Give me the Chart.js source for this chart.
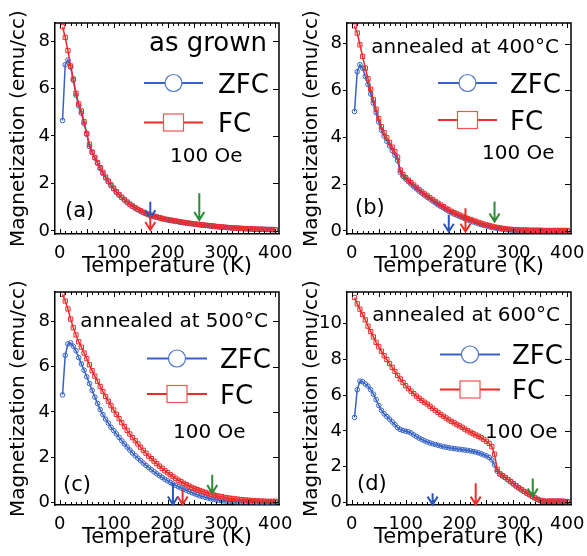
<!DOCTYPE html>
<html>
<head>
<meta charset="utf-8">
<title>ZFC / FC magnetization</title>
<script src="https://cdn.jsdelivr.net/npm/chart.js@4.4.1/dist/chart.umd.min.js"></script>
<style>
  html, body { margin: 0; padding: 0; background: #fff; }
  #page { position: relative; width: 587px; height: 556px; overflow: hidden; background: #fff; }
  #page canvas { position: absolute; }
</style>
</head>
<body>
<div id="page">
  <canvas id="chartA" width="300" height="278" style="left:0;top:0"></canvas>
  <canvas id="chartB" width="294" height="278" style="left:293px;top:0"></canvas>
  <canvas id="chartC" width="300" height="278" style="left:0;top:278px"></canvas>
  <canvas id="chartD" width="294" height="278" style="left:293px;top:278px"></canvas>
</div>
<script>
// Temperature grid (K), shared by every sweep
const temps = [
  5, 10, 15, 20, 25, 30, 35, 40, 45, 50,
  55, 60, 65, 70, 75, 80, 85, 90, 95, 100,
  105, 110, 115, 120, 125, 130, 135, 140, 145, 150,
  155, 160, 165, 170, 175, 180, 185, 190, 195, 200,
  205, 210, 215, 220, 225, 230, 235, 240, 245, 250,
  255, 260, 265, 270, 275, 280, 285, 290, 295, 300,
  305, 310, 315, 320, 325, 330, 335, 340, 345, 350,
  355, 360, 365, 370, 375, 380, 385, 390, 395, 400
];

// (a) as grown
const zfcA = [
  4.65, 7.0, 7.2, 6.9, 6.35, 5.72, 5.27, 4.96, 4.52, 4.07,
  3.55, 3.31, 3.07, 2.85, 2.63, 2.42, 2.23, 2.07, 1.91, 1.77,
  1.63, 1.51, 1.40, 1.30, 1.20, 1.11, 1.03, 0.96, 0.89, 0.83,
  0.77, 0.72, 0.68, 0.64, 0.60, 0.57, 0.54, 0.51, 0.48, 0.46,
  0.44, 0.42, 0.40, 0.38, 0.36, 0.34, 0.33, 0.31, 0.30, 0.28,
  0.27, 0.25, 0.24, 0.23, 0.22, 0.20, 0.19, 0.18, 0.17, 0.16,
  0.15, 0.14, 0.13, 0.12, 0.12, 0.11, 0.10, 0.10, 0.09, 0.09,
  0.08, 0.08, 0.07, 0.07, 0.07, 0.06, 0.06, 0.06, 0.05, 0.05
];
const fcA = [
  8.6, 8.15, 7.6, 6.95, 6.4, 5.8, 5.35, 5.05, 4.6, 4.1,
  3.65, 3.32, 3.1, 2.88, 2.67, 2.47, 2.27, 2.1, 1.94, 1.8,
  1.65, 1.53, 1.42, 1.32, 1.22, 1.13, 1.05, 0.98, 0.91, 0.85,
  0.79, 0.74, 0.70, 0.66, 0.62, 0.59, 0.56, 0.53, 0.50, 0.48,
  0.46, 0.44, 0.42, 0.40, 0.38, 0.36, 0.34, 0.33, 0.31, 0.30,
  0.28, 0.27, 0.26, 0.24, 0.23, 0.22, 0.21, 0.19, 0.18, 0.17,
  0.16, 0.15, 0.14, 0.13, 0.12, 0.12, 0.11, 0.10, 0.10, 0.09,
  0.09, 0.08, 0.08, 0.07, 0.07, 0.07, 0.06, 0.06, 0.06, 0.05
];

// (b) annealed at 400 C
const zfcB = [
  5.1, 6.8, 7.1, 6.95, 6.6, 6.25, 5.85, 5.45, 5.05, 4.65,
  4.3, 4.05, 3.83, 3.63, 3.43, 3.23, 3.0, 2.5, 2.33, 2.22,
  2.11, 2.0, 1.9, 1.8, 1.7, 1.61, 1.52, 1.44, 1.36, 1.28,
  1.2, 1.12, 1.05, 0.98, 0.91, 0.84, 0.78, 0.72, 0.67, 0.62,
  0.57, 0.52, 0.47, 0.43, 0.39, 0.35, 0.31, 0.27, 0.24, 0.21,
  0.18, 0.15, 0.13, 0.11, 0.09, 0.07, 0.06, 0.05, 0.04, 0.03,
  0.03, 0.03, 0.02, 0.02, 0.02, 0.02, 0.02, 0.02, 0.01, 0.01,
  0.01, 0.01, 0.01, 0.01, 0.01, 0.01, 0.01, 0.01, 0.01, 0.01
];
const fcB = [
  8.75, 8.45, 7.95, 7.45, 6.95, 6.5, 6.05, 5.6, 5.2, 4.8,
  4.45, 4.2, 3.98, 3.78, 3.58, 3.38, 3.15, 2.6, 2.4, 2.28,
  2.17, 2.06, 1.96, 1.86, 1.76, 1.67, 1.58, 1.5, 1.42, 1.34,
  1.26, 1.18, 1.11, 1.04, 0.97, 0.9, 0.84, 0.78, 0.73, 0.68,
  0.63, 0.58, 0.53, 0.49, 0.45, 0.41, 0.37, 0.33, 0.29, 0.26,
  0.23, 0.2, 0.17, 0.15, 0.13, 0.11, 0.09, 0.08, 0.07, 0.06,
  0.05, 0.05, 0.04, 0.04, 0.04, 0.03, 0.03, 0.03, 0.03, 0.03,
  0.02, 0.02, 0.02, 0.02, 0.02, 0.02, 0.02, 0.02, 0.02, 0.02
];

// (c) annealed at 500 C
const zfcC = [
  4.75, 6.5, 7.0, 7.05, 6.9, 6.7, 6.4, 6.12, 5.84, 5.55,
  5.25, 4.95, 4.65, 4.37, 4.1, 3.88, 3.68, 3.5, 3.32, 3.17,
  3.02, 2.87, 2.72, 2.58, 2.44, 2.31, 2.18, 2.06, 1.95, 1.84,
  1.73, 1.63, 1.53, 1.44, 1.35, 1.26, 1.18, 1.1, 1.02, 0.95,
  0.88, 0.81, 0.75, 0.69, 0.63, 0.58, 0.53, 0.48, 0.43, 0.38,
  0.34, 0.29, 0.26, 0.22, 0.19, 0.16, 0.13, 0.11, 0.09, 0.07,
  0.06, 0.05, 0.04, 0.03, 0.03, 0.02, 0.02, 0.02, 0.02, 0.02,
  0.02, 0.02, 0.01, 0.01, 0.01, 0.01, 0.01, 0.01, 0.01, 0.01
];
const fcC = [
  9.2, 8.9, 8.55, 8.1, 7.72, 7.4, 7.1, 6.86, 6.6, 6.35,
  6.08, 5.82, 5.58, 5.35, 5.12, 4.9, 4.68, 4.47, 4.27, 4.08,
  3.89, 3.7, 3.52, 3.35, 3.18, 3.02, 2.86, 2.72, 2.58, 2.44,
  2.3, 2.17, 2.04, 1.93, 1.82, 1.71, 1.6, 1.5, 1.4, 1.31,
  1.22, 1.14, 1.06, 0.98, 0.91, 0.84, 0.78, 0.72, 0.66, 0.61,
  0.56, 0.52, 0.48, 0.44, 0.4, 0.36, 0.33, 0.3, 0.27, 0.25,
  0.22, 0.2, 0.18, 0.17, 0.15, 0.14, 0.12, 0.11, 0.1, 0.09,
  0.08, 0.07, 0.06, 0.06, 0.05, 0.05, 0.04, 0.04, 0.04, 0.04
];

// (d) annealed at 600 C
const zfcD = [
  4.75, 6.3, 6.78, 6.75, 6.62, 6.5, 6.3, 6.05, 5.75, 5.42,
  5.15, 4.95, 4.8, 4.66, 4.5, 4.35, 4.18, 4.08, 4.02, 3.98,
  3.95, 3.88, 3.78, 3.68, 3.6, 3.52, 3.45, 3.38, 3.33, 3.28,
  3.24, 3.2, 3.16, 3.12, 3.09, 3.06, 3.03, 3.01, 2.99, 2.97,
  2.95, 2.93, 2.91, 2.88, 2.85, 2.82, 2.78, 2.72, 2.66, 2.6,
  2.52, 2.38, 2.1, 1.75, 1.58, 1.48, 1.38, 1.27, 1.16, 1.04,
  0.92, 0.81, 0.71, 0.61, 0.52, 0.43, 0.34, 0.25, 0.17, 0.11,
  0.07, 0.06, 0.07, 0.06, 0.07, 0.08, 0.07, 0.07, 0.06, 0.05
];
const fcD = [
  11.45, 11.1, 10.8, 10.5, 10.2, 9.85, 9.55, 9.25, 8.95, 8.7,
  8.45, 8.2, 7.98, 7.76, 7.55, 7.32, 7.1, 6.9, 6.7, 6.52,
  6.36, 6.22, 6.08, 5.94, 5.82, 5.7, 5.6, 5.5, 5.38, 5.26,
  5.14, 5.03, 4.92, 4.82, 4.72, 4.62, 4.53, 4.45, 4.36, 4.28,
  4.2, 4.1, 4.01, 3.93, 3.85, 3.77, 3.7, 3.62, 3.53, 3.42,
  3.3, 3.12, 2.7, 1.85, 1.6, 1.5, 1.4, 1.28, 1.17, 1.05,
  0.93, 0.82, 0.72, 0.62, 0.53, 0.44, 0.35, 0.26, 0.18, 0.12,
  0.08, 0.07, 0.07, 0.08, 0.07, 0.07, 0.08, 0.07, 0.06, 0.05
];

// axis ticks
const xTicks = [0, 100, 200, 300, 400];
const yTicks8 = [0, 2, 4, 6, 8];
const yTicks10 = [0, 2, 4, 6, 8, 10];

// marker arrows: temperature, shaft top and tip (emu/cc); order blue, red, green
const arrowColors = ['#2b55b8', '#ea2f2a', '#2e8a36'];
const arrowTA = [168, 168, 259], arrowTopA = [1.23, 0.67, 1.59], arrowTipA = [0.53, 0.04, 0.46];
const arrowTB = [180, 211, 265], arrowTopB = [0.69, 0.97, 1.26], arrowTipB = [-0.03, -0.03, 0.40];
const arrowTC = [210, 228, 283], arrowTopC = [0.85, 0.56, 1.22], arrowTipC = [-0.1, -0.1, 0.41];
const arrowTD = [150, 230, 336], arrowTopD = [0.52, 1.07, 1.34], arrowTipD = [-0.12, -0.12, 0.33];

const FONT = "'DejaVu Sans', 'Liberation Sans', sans-serif";
const ZFC_COLOR = '#3562c4';
const FC_COLOR = '#ee2b2b';

function decoPlugin(p) {
  return {
    id: 'deco',
    afterDatasetsDraw(chart) {
      const { ctx, chartArea: a, scales: { x, y } } = chart;
      ctx.save();
      // top and right frame
      ctx.strokeStyle = '#000';
      ctx.lineWidth = 1.5;
      ctx.beginPath();
      ctx.moveTo(a.left, a.top);
      ctx.lineTo(a.right, a.top);
      ctx.lineTo(a.right, a.bottom);
      ctx.stroke();

      // inward minor ticks on top/bottom, major on the right
      ctx.lineWidth = 1;
      ctx.beginPath();
      for (let t = 0; t <= 400; t += 10) {
        const px = Math.round(x.getPixelForValue(t)) + 0.5;
        const len = t % 50 === 0 ? 5 : 3;
        ctx.moveTo(px, a.bottom);
        ctx.lineTo(px, a.bottom - len);
        ctx.moveTo(px, a.top);
        ctx.lineTo(px, a.top + len);
      }
      y.ticks.forEach(tk => {
        const py = Math.round(y.getPixelForValue(tk.value)) + 0.5;
        ctx.moveTo(a.right, py);
        ctx.lineTo(a.right - 6, py);
      });
      ctx.stroke();

      // arrows
      ctx.lineWidth = 2;
      p.arrowT.forEach((t, i) => {
        const px = x.getPixelForValue(t);
        const y0 = y.getPixelForValue(p.arrowTop[i]);
        const y1 = y.getPixelForValue(p.arrowTip[i]);
        ctx.strokeStyle = arrowColors[i];
        ctx.beginPath();
        ctx.moveTo(px, y0);
        ctx.lineTo(px, y1);
        ctx.moveTo(px - 5, y1 - 8);
        ctx.lineTo(px, y1);
        ctx.lineTo(px + 5, y1 - 8);
        ctx.stroke();
      });
      ctx.restore();
    },
    afterDraw(chart) {
      const { ctx, chartArea: a } = chart;
      ctx.save();
      ctx.fillStyle = '#000';
      ctx.textBaseline = 'alphabetic';

      // sample caption
      ctx.font = `${p.noteSize}px ${FONT}`;
      ctx.textAlign = 'right';
      ctx.fillText(p.note, a.right + p.noteDx, a.top + p.noteDy);

      // legend
      const lg = p.legend;
      const x0 = a.right + lg.x0, x1 = a.right + lg.x1, xm = (x0 + x1) / 2;
      const yZ = a.top + lg.rows[0], yF = a.top + lg.rows[1];
      ctx.lineWidth = 2;
      ctx.strokeStyle = ZFC_COLOR;
      ctx.beginPath(); ctx.moveTo(x0, yZ); ctx.lineTo(x1, yZ); ctx.stroke();
      ctx.strokeStyle = FC_COLOR;
      ctx.beginPath(); ctx.moveTo(x0, yF); ctx.lineTo(x1, yF); ctx.stroke();
      ctx.lineWidth = 1.2;
      ctx.fillStyle = '#fff';
      ctx.strokeStyle = '#4a72d0';
      ctx.beginPath(); ctx.arc(xm, yZ, 8.5, 0, Math.PI * 2); ctx.fill(); ctx.stroke();
      ctx.strokeStyle = '#f25252';
      ctx.fillRect(xm - 10, yF - 8.5, 20, 17);
      ctx.strokeRect(xm - 10, yF - 8.5, 20, 17);

      ctx.fillStyle = '#000';
      ctx.textAlign = 'left';
      ctx.font = `26px ${FONT}`;
      ctx.fillText('ZFC', a.right + lg.tx, yZ + 9.5);
      ctx.fillText('FC', a.right + lg.tx, yF + 9.5);

      // field
      ctx.font = `20px ${FONT}`;
      ctx.fillText('100 Oe', a.right + p.fieldDx, a.top + p.fieldDy);

      // panel tag
      ctx.font = `21px ${FONT}`;
      ctx.fillText(p.tag, a.left + p.tagDx, a.bottom + p.tagDy);
      ctx.restore();
    }
  };
}

function makePanel(p) {
  const canvas = document.getElementById(p.id);
  const W = canvas.width, H = canvas.height;
  const [l, t, r, b] = p.area;
  const tickFont = { family: FONT, size: 18 };
  return new Chart(canvas, {
    type: 'line',
    data: {
      datasets: [
        {
          label: 'FC',
          data: temps.map((T, i) => ({ x: T, y: p.fc[i] })),
          borderColor: FC_COLOR,
          borderWidth: 1.5,
          pointStyle: 'rect',
          pointRadius: 3,
          pointBorderWidth: 1,
          pointBorderColor: FC_COLOR,
          pointBackgroundColor: 'rgba(255,255,255,0)',
          order: 0
        },
        {
          label: 'ZFC',
          data: temps.map((T, i) => ({ x: T, y: p.zfc[i] })),
          borderColor: ZFC_COLOR,
          borderWidth: 1.5,
          pointStyle: 'circle',
          pointRadius: 2.3,
          pointBorderWidth: 1,
          pointBorderColor: ZFC_COLOR,
          pointBackgroundColor: 'rgba(255,255,255,0)',
          order: 1
        }
      ]
    },
    options: {
      responsive: false,
      animation: false,
      events: [],
      layout: { padding: { left: 0, top: t, right: W - r, bottom: 0 } },
      plugins: { legend: { display: false }, tooltip: { enabled: false } },
      scales: {
        x: {
          type: 'linear',
          min: -9,
          max: 407,
          afterFit: s => { s.height = H - b; },
          afterBuildTicks: s => { s.ticks = xTicks.map(v => ({ value: v })); },
          grid: { display: false },
          border: { display: true, color: '#000', width: 1.5 },
          ticks: { color: '#000', font: tickFont, padding: 1, maxRotation: 0, autoSkip: false },
          title: {
            display: true,
            text: 'Temperature (K)',
            color: '#000',
            font: { family: FONT, size: 21, lineHeight: 1 },
            padding: { top: 0, bottom: p.xTitlePad }
          }
        },
        y: {
          type: 'linear',
          min: p.yMin,
          max: p.yMax,
          afterFit: s => { s.width = l; },
          afterBuildTicks: s => { s.ticks = p.yTicks.map(v => ({ value: v })); },
          grid: { drawOnChartArea: false, drawTicks: true, tickLength: 4, color: '#000', lineWidth: 1 },
          border: { display: true, color: '#000', width: 1.5 },
          ticks: { color: '#000', font: tickFont, padding: 1, autoSkip: false },
          title: {
            display: true,
            text: 'Magnetization (emu/cc)',
            color: '#000',
            font: { family: FONT, size: 20, lineHeight: 1 },
            padding: { top: 9, bottom: 0 }
          }
        }
      }
    },
    plugins: [decoPlugin(p)]
  });
}

makePanel({
  id: 'chartA', area: [55, 23, 279, 234], zfc: zfcA, fc: fcA,
  yMin: -0.13, yMax: 8.76, yTicks: yTicks8, xTitlePad: 0.5,
  arrowT: arrowTA, arrowTop: arrowTopA, arrowTip: arrowTipA,
  note: 'as grown', noteSize: 26, noteDx: -12, noteDy: 28,
  legend: { x0: -135, x1: -76, tx: -61, rows: [60, 99.5] },
  fieldDx: -109, fieldDy: 139, tag: '(a)', tagDx: 10, tagDy: -17.5
});
makePanel({
  id: 'chartB', area: [54, 23, 278, 234], zfc: zfcB, fc: fcB,
  yMin: -0.13, yMax: 8.88, yTicks: yTicks8, xTitlePad: 0.5,
  arrowT: arrowTB, arrowTop: arrowTopB, arrowTip: arrowTipB,
  note: 'annealed at 400°C', noteSize: 20, noteDx: -12, noteDy: 30,
  legend: { x0: -133, x1: -74, tx: -61, rows: [60, 97] },
  fieldDx: -89, fieldDy: 136, tag: '(b)', tagDx: 8, tagDy: -20.5
});
makePanel({
  id: 'chartC', area: [55, 14, 279, 227], zfc: zfcC, fc: fcC,
  yMin: -0.12, yMax: 9.3, yTicks: yTicks8, xTitlePad: 7.5,
  arrowT: arrowTC, arrowTop: arrowTopC, arrowTip: arrowTipC,
  note: 'annealed at 500°C', noteSize: 20, noteDx: -11, noteDy: 34.5,
  legend: { x0: -132, x1: -72, tx: -59, rows: [66.5, 102] },
  fieldDx: -106, fieldDy: 146, tag: '(c)', tagDx: 8, tagDy: -14
});
makePanel({
  id: 'chartD', area: [54, 14, 278, 227], zfc: zfcD, fc: fcD,
  yMin: -0.14, yMax: 11.76, yTicks: yTicks10, xTitlePad: 7.5,
  arrowT: arrowTD, arrowTop: arrowTopD, arrowTip: arrowTipD,
  note: 'annealed at 600°C', noteSize: 20, noteDx: -11, noteDy: 29,
  legend: { x0: -131, x1: -71, tx: -59, rows: [62.5, 97.5] },
  fieldDx: -86, fieldDy: 146, tag: '(d)', tagDx: 10, tagDy: -15.5
});
</script>
</body>
</html>
